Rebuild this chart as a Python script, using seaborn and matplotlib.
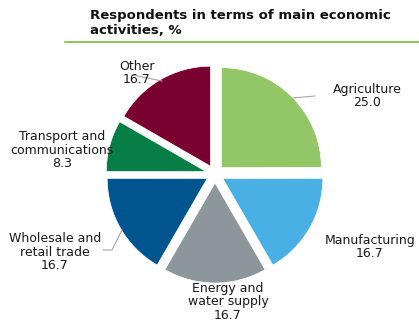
import matplotlib
matplotlib.use("Agg")
import matplotlib.pyplot as plt
import seaborn as sns

categories = ["Agriculture", "Manufacturing", "Energy and\nwater supply",
              "Wholesale and\nretail trade", "Transport and\ncommunications", "Other"]
values = [25.0, 16.7, 16.7, 16.7, 8.3, 16.7]
colors = ["#92C667", "#48B0E5", "#8C969B", "#00558E", "#077E45", "#7A0230"]
title = "Respondents in terms of main economic\nactivities, %"

sns.set_theme(style="white")
plt.rcParams["font.family"] = ["DejaVu Sans"]

W, H = 419, 329
fig = plt.figure(figsize=(W / 100, H / 100), dpi=100)
ax = fig.add_axes([0, 0, 1, 1])

cx, cy, R = 215, H - 174, 100
wedges, _ = ax.pie(values, colors=colors, startangle=90, counterclock=False,
                   center=(cx, cy), radius=R, explode=[9] * len(values),
                   wedgeprops=dict(linewidth=0.5, edgecolor="white"), frame=True)
ax.set_xlim(0, W)
ax.set_ylim(0, H)
ax.set_aspect("equal")
ax.axis("off")

# label layout (pixel positions, y from top) and leader lines
label_pos = [(367, 96), (370, 247), (228, 302), (55, 252), (62, 150), (137, 73)]
leaders = [
    [(293, 98), (315, 96)],
    None,
    None,
    [(103, 250), (112, 250), (122, 230)],
    None,
    [(133, 75), (162, 81)],
]
for cat, v, (lx, ly), ld in zip(categories, values, label_pos, leaders):
    if ld is not None:
        xs = [p[0] for p in ld]
        ys = [H - p[1] for p in ld]
        ax.plot(xs, ys, color="#A6A6A6", lw=0.8, zorder=1)
    ax.text(lx, H - ly, f"{cat}\n{v:.1f}", ha="center", va="center",
            fontsize=9, color="#1A1A1A", linespacing=1.05, zorder=5)

fig.text(90 / W, 1 - 23 / H, title, ha="left", va="center", fontsize=9.5,
         fontweight="bold", color="#111111", linespacing=1.1)
fig.add_artist(plt.Line2D([65 / W, 1], [1 - 42 / H, 1 - 42 / H],
                          color="#8DC860", lw=1.5, transform=fig.transFigure))

fig.savefig("out.png", dpi=100)
